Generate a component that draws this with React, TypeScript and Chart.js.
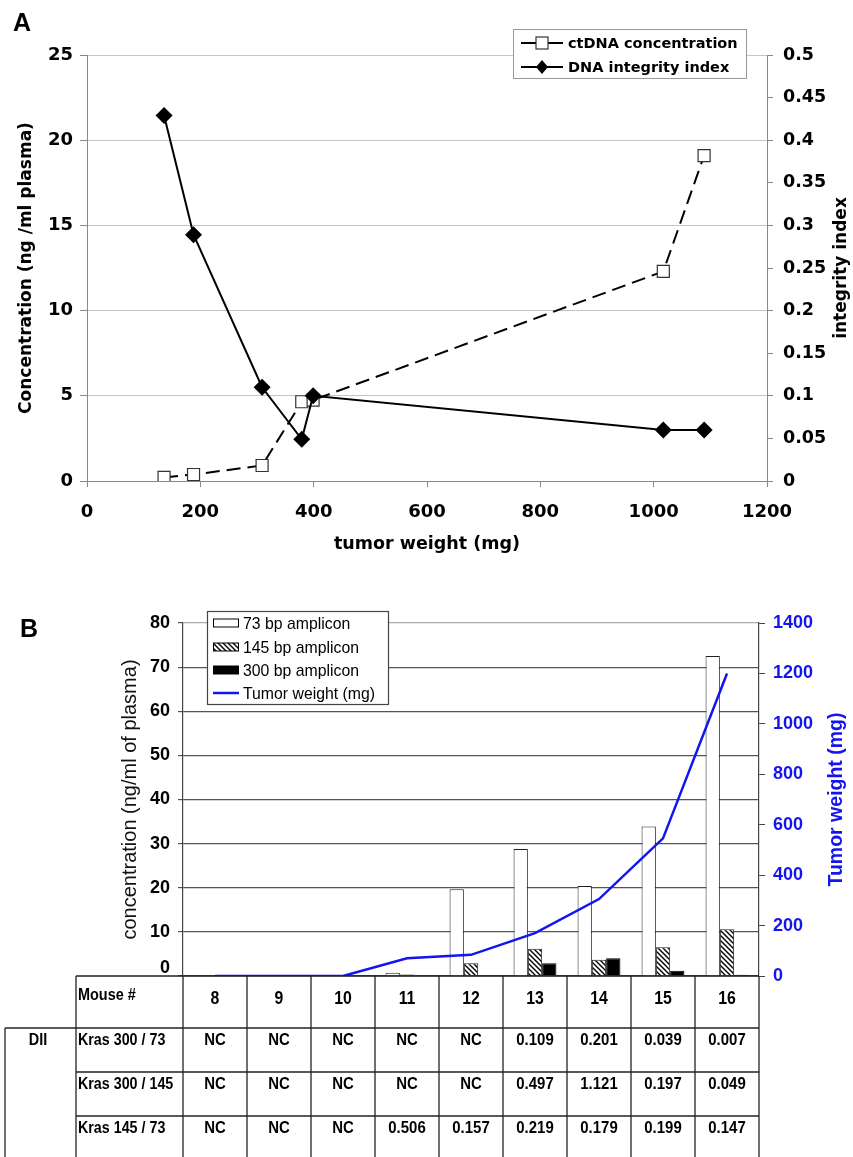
import React, { useEffect, useRef } from 'react';
import { Chart, registerables } from 'chart.js';

Chart.register(...registerables);

// ---------- Panel A data ----------
const tumorWeightA = [136, 188, 309, 379, 399, 1017, 1089];
const ctDNAConcentration = [0.21, 0.38, 0.91, 4.65, 4.75, 12.3, 19.1];
const dnaIntegrityIndex = [0.429, 0.289, 0.11, 0.049, 0.1, 0.06, 0.06];
const legendA = ['ctDNA concentration', 'DNA integrity index'];
const xTitleA = 'tumor weight (mg)';
const yTitleA = 'Concentration (ng /ml plasma)';
const y2TitleA = 'integrity index';

// ---------- Panel B data ----------
const mice = ['8', '9', '10', '11', '12', '13', '14', '15', '16'];
const amp73 = [null, null, null, 0.75, 19.65, 28.8, 20.4, 33.9, 72.5];
const amp145 = [null, null, null, 0.35, 2.9, 6.2, 3.7, 6.5, 10.6];
const amp300 = [null, null, null, null, null, 2.9, 4.0, 1.2, 0.3];
const tumorWeightB = [0, 0, 0, 70, 84, 170, 305, 546, 1200];
const legendB = ['73 bp amplicon', '145 bp amplicon', '300 bp amplicon', 'Tumor weight (mg)'];
const yTitleB = 'concentration (ng/ml of plasma)';
const y2TitleB = 'Tumor weight (mg)';
const tableHeader = 'Mouse #';
const tableGroup = 'DII';
const rowLabels = ['Kras 300 / 73', 'Kras 300 / 145', 'Kras 145 / 73'];
const dii300_73 = ['NC', 'NC', 'NC', 'NC', 'NC', '0.109', '0.201', '0.039', '0.007'];
const dii300_145 = ['NC', 'NC', 'NC', 'NC', 'NC', '0.497', '1.121', '0.197', '0.049'];
const dii145_73 = ['NC', 'NC', 'NC', '0.506', '0.157', '0.219', '0.179', '0.199', '0.147'];
const tableRows = [dii300_73, dii300_145, dii145_73];

const DV = '"DejaVu Sans", Verdana, sans-serif';
const AR = '"Liberation Sans", Arial, sans-serif';
const BLUE = '#1414f0';

function rotText(ctx: CanvasRenderingContext2D, text: string, x: number, y: number) {
  ctx.save();
  ctx.translate(x, y);
  ctx.rotate(-Math.PI / 2);
  ctx.textAlign = 'center';
  ctx.textBaseline = 'middle';
  ctx.fillText(text, 0, 0);
  ctx.restore();
}

function narrowText(ctx: CanvasRenderingContext2D, text: string, x: number, y: number, align: CanvasTextAlign, sx: number) {
  ctx.save();
  ctx.translate(x, y);
  ctx.scale(sx, 1);
  ctx.textAlign = align;
  ctx.textBaseline = 'middle';
  ctx.fillText(text, 0, 0);
  ctx.restore();
}

function makeHatch(ctx: CanvasRenderingContext2D) {
  const c = document.createElement('canvas');
  c.width = 5;
  c.height = 5;
  const g = c.getContext('2d')!;
  g.fillStyle = '#fff';
  g.fillRect(0, 0, 5, 5);
  g.strokeStyle = '#000';
  g.lineWidth = 1.4;
  g.beginPath();
  g.moveTo(-1, -1); g.lineTo(6, 6);
  g.moveTo(-1, 4); g.lineTo(1, 6);
  g.moveTo(4, -1); g.lineTo(6, 1);
  g.stroke();
  return ctx.createPattern(c, 'repeat');
}

function PanelA() {
  const ref = useRef<HTMLCanvasElement>(null);
  useEffect(() => {
    const canvas = ref.current!;
    const deco = {
      id: 'decoA',
      afterDraw(chart: any) {
        const ctx: CanvasRenderingContext2D = chart.ctx;
        const ca = chart.chartArea;
        const cy = (ca.top + ca.bottom) / 2;
        ctx.save();
        ctx.fillStyle = '#000';
        ctx.font = `bold 17px ${DV}`;
        rotText(ctx, yTitleA, 27, cy);
        rotText(ctx, y2TitleA, 842, cy);
        ctx.textAlign = 'center';
        ctx.textBaseline = 'middle';
        ctx.font = `bold 17.5px ${DV}`;
        ctx.fillText(xTitleA, (ca.left + ca.right) / 2, 544);
        // legend
        const lx = 513, ly = 29, lw = 233, lh = 49;
        ctx.fillStyle = '#fff';
        ctx.fillRect(lx, ly, lw, lh);
        ctx.strokeStyle = '#999';
        ctx.lineWidth = 1;
        ctx.strokeRect(lx + 0.5, ly + 0.5, lw, lh);
        const rows = [43, 67];
        rows.forEach((ry, i) => {
          ctx.strokeStyle = '#000';
          ctx.lineWidth = 2;
          ctx.beginPath();
          ctx.moveTo(521, ry);
          ctx.lineTo(563, ry);
          ctx.stroke();
          if (i === 0) {
            ctx.fillStyle = '#fff';
            ctx.fillRect(536, ry - 6, 12, 12);
            ctx.lineWidth = 1.2;
            ctx.strokeStyle = '#333';
            ctx.strokeRect(536, ry - 6, 12, 12);
          } else {
            ctx.fillStyle = '#000';
            ctx.beginPath();
            ctx.moveTo(542, ry - 7);
            ctx.lineTo(548, ry);
            ctx.lineTo(542, ry + 7);
            ctx.lineTo(536, ry);
            ctx.closePath();
            ctx.fill();
          }
          ctx.fillStyle = '#000';
          ctx.font = `bold 14.5px ${DV}`;
          ctx.textAlign = 'left';
          ctx.textBaseline = 'middle';
          ctx.fillText(legendA[i], 568, ry + 1);
        });
        ctx.restore();
      },
    };
    const chart = new Chart(canvas, {
      type: 'line',
      data: {
        datasets: [
          {
            label: legendA[1],
            data: tumorWeightA.map((x, i) => ({ x, y: dnaIntegrityIndex[i] })),
            yAxisID: 'y1',
            borderColor: '#000',
            borderWidth: 2,
            pointStyle: 'rectRot',
            pointRadius: 8.5,
            pointBackgroundColor: '#000',
            pointBorderColor: '#000',
            pointBorderWidth: 0,
            tension: 0,
          },
          {
            label: legendA[0],
            data: tumorWeightA.map((x, i) => ({ x, y: ctDNAConcentration[i] })),
            yAxisID: 'y',
            borderColor: '#000',
            borderWidth: 2,
            borderDash: [14, 7],
            pointStyle: 'rect',
            pointRadius: 8.5,
            pointBackgroundColor: '#fff',
            pointBorderColor: '#333',
            pointBorderWidth: 1.2,
            tension: 0,
          },
        ],
      },
      options: {
        responsive: false,
        animation: false,
        layout: { padding: { top: 55, left: 0, right: 0, bottom: 0 } },
        plugins: { legend: { display: false }, tooltip: { enabled: false } },
        scales: {
          x: {
            type: 'linear',
            min: 0,
            max: 1200,
            afterFit: (s: any) => { s.height = 590 - 481; },
            ticks: {
              stepSize: 200,
              padding: 15,
              color: '#000',
              font: { family: DV, size: 18, weight: 'bold' },
              callback: (v: any) => String(v),
            },
            grid: { drawOnChartArea: false, tickLength: 6, tickColor: '#888' },
            border: { color: '#888' },
          },
          y: {
            position: 'left',
            min: 0,
            max: 25,
            afterFit: (s: any) => { s.width = 87; },
            ticks: {
              stepSize: 5,
              padding: 7,
              color: '#000',
              font: { family: DV, size: 18, weight: 'bold' },
            },
            grid: { color: '#c4c4c4', tickLength: 7, tickColor: '#888' },
            border: { color: '#888' },
          },
          y1: {
            position: 'right',
            min: 0,
            max: 0.5,
            afterFit: (s: any) => { s.width = 853 - 767; },
            ticks: {
              stepSize: 0.05,
              padding: 10,
              color: '#000',
              font: { family: DV, size: 17.5, weight: 'bold' },
              callback: (v: any) => String(Math.round(v * 100) / 100),
            },
            grid: { drawOnChartArea: false, tickLength: 6, tickColor: '#888' },
            border: { color: '#888' },
          },
        },
      } as any,
      plugins: [deco],
    });
    return () => chart.destroy();
  }, []);
  return <canvas ref={ref} width={853} height={590} style={{ position: 'absolute', left: 0, top: 0 }} />;
}

function PanelB() {
  const ref = useRef<HTMLCanvasElement>(null);
  useEffect(() => {
    const canvas = ref.current!;
    const ctx0 = canvas.getContext('2d')!;
    const hatch = makeHatch(ctx0);
    const deco = {
      id: 'decoB',
      afterDraw(chart: any) {
        const ctx: CanvasRenderingContext2D = chart.ctx;
        const ca = chart.chartArea;
        const cy = (ca.top + ca.bottom) / 2;
        const xs = chart.scales.x;
        ctx.save();
        // axis titles
        ctx.fillStyle = '#111';
        ctx.font = `20px ${AR}`;
        rotText(ctx, yTitleB, 130, cy);
        ctx.fillStyle = BLUE;
        ctx.font = `bold 19.5px ${AR}`;
        rotText(ctx, y2TitleB, 837, cy);
        // zero label (shifted up like the reference)
        ctx.fillStyle = '#000';
        ctx.font = `bold 18px ${AR}`;
        ctx.textAlign = 'right';
        ctx.textBaseline = 'middle';
        ctx.fillText('0', 170, ca.bottom - 8);

        // legend
        const lx = 207, ly = 21, lw = 181, lh = 93;
        ctx.fillStyle = '#fff';
        ctx.fillRect(lx, ly, lw, lh);
        ctx.strokeStyle = '#444';
        ctx.lineWidth = 1.2;
        ctx.strokeRect(lx + 0.5, ly + 0.5, lw, lh);
        const rowsY = [33, 57, 80, 103];
        const fills: any[] = ['#fff', hatch, '#000'];
        rowsY.forEach((ry, i) => {
          if (i < 3) {
            ctx.fillStyle = fills[i];
            ctx.fillRect(213, ry - 4, 25, 8);
            ctx.strokeStyle = '#000';
            ctx.lineWidth = 1;
            ctx.strokeRect(213.5, ry - 4, 25, 8);
          } else {
            ctx.strokeStyle = BLUE;
            ctx.lineWidth = 2.5;
            ctx.beginPath();
            ctx.moveTo(213, ry);
            ctx.lineTo(239, ry);
            ctx.stroke();
          }
          ctx.fillStyle = '#000';
          ctx.font = `17px ${AR}`;
          narrowText(ctx, legendB[i], 243, ry + 1, 'left', 0.93);
        });

        // table
        const half = (xs.getPixelForValue(1) - xs.getPixelForValue(0)) / 2;
        const centers = mice.map((_, i) => xs.getPixelForValue(i));
        const right = ca.right;
        const top = ca.bottom;
        const bottom = chart.height;
        const mouseBottom = top + 52;
        const rowH = 44;
        const tblLeft = 76;
        const outerLeft = 5;
        ctx.strokeStyle = '#222';
        ctx.lineWidth = 1.3;
        const line = (x1: number, y1: number, x2: number, y2: number) => {
          ctx.beginPath();
          ctx.moveTo(x1, y1);
          ctx.lineTo(x2, y2);
          ctx.stroke();
        };
        line(tblLeft, top, right, top);
        line(tblLeft, top, tblLeft, bottom);
        line(centers[0] - half, top, centers[0] - half, bottom);
        centers.forEach((c) => line(c + half, top, c + half, bottom));
        line(outerLeft, mouseBottom, right, mouseBottom);
        line(outerLeft, mouseBottom, outerLeft, bottom);
        line(tblLeft, mouseBottom + rowH, right, mouseBottom + rowH);
        line(tblLeft, mouseBottom + 2 * rowH, right, mouseBottom + 2 * rowH);

        ctx.fillStyle = '#000';
        ctx.font = `bold 17px ${AR}`;
        narrowText(ctx, tableHeader, 78, top + 19, 'left', 0.85);
        ctx.font = `bold 18px ${AR}`;
        mice.forEach((m, i) => narrowText(ctx, m, centers[i], top + 23, 'center', 0.88));
        ctx.font = `bold 17px ${AR}`;
        narrowText(ctx, tableGroup, 38, mouseBottom + 12, 'center', 0.85);
        tableRows.forEach((row, r) => {
          const ry = mouseBottom + r * rowH + 12;
          ctx.font = `bold 17px ${AR}`;
          narrowText(ctx, rowLabels[r], 78, ry, 'left', 0.84);
          ctx.font = `bold 17px ${AR}`;
          row.forEach((v, i) => narrowText(ctx, v, centers[i], ry, 'center', 0.88));
        });
        ctx.restore();
      },
    };
    const chart = new Chart(canvas, {
      type: 'bar',
      data: {
        labels: mice,
        datasets: [
          {
            type: 'line',
            label: legendB[3],
            data: tumorWeightB,
            yAxisID: 'y1',
            borderColor: BLUE,
            borderWidth: 2.5,
            pointRadius: 0,
            tension: 0,
            order: 0,
          },
          {
            label: legendB[0],
            data: amp73,
            yAxisID: 'y',
            backgroundColor: '#fff',
            borderColor: '#222',
            borderWidth: 1,
            order: 1,
          },
          {
            label: legendB[1],
            data: amp145,
            yAxisID: 'y',
            backgroundColor: hatch as any,
            borderColor: '#222',
            borderWidth: 1,
            order: 1,
          },
          {
            label: legendB[2],
            data: amp300,
            yAxisID: 'y',
            backgroundColor: '#000',
            borderColor: '#000',
            borderWidth: 1,
            order: 1,
          },
        ] as any,
      },
      options: {
        responsive: false,
        animation: false,
        layout: { padding: { top: 33, left: 0, right: 0, bottom: 0 } },
        plugins: { legend: { display: false }, tooltip: { enabled: false } },
        datasets: { bar: { categoryPercentage: 0.67, barPercentage: 1.0 } },
        scales: {
          x: {
            type: 'category',
            offset: true,
            afterFit: (s: any) => { s.height = 567 - 386; },
            ticks: { display: false },
            grid: { display: false },
            border: { display: false },
          },
          y: {
            position: 'left',
            min: 0,
            max: 80,
            afterFit: (s: any) => { s.width = 183; },
            ticks: {
              stepSize: 10,
              padding: 8,
              color: '#000',
              font: { family: AR, size: 18, weight: 'bold' },
              callback: (v: any) => (v === 0 ? '' : String(v)),
            },
            grid: {
              color: (c: any) => (c.tick && c.tick.value === 80 ? '#aaa' : '#555'),
              lineWidth: 1.2,
              tickLength: 5,
              tickColor: '#555',
            },
            border: { color: '#444', width: 1.2 },
          },
          y1: {
            position: 'right',
            min: 0,
            max: 1400,
            afterFit: (s: any) => { s.width = 853 - 759; },
            ticks: {
              stepSize: 200,
              padding: 8,
              color: BLUE,
              font: { family: AR, size: 18, weight: 'bold' },
              callback: (v: any) => String(v),
            },
            grid: { drawOnChartArea: false, tickLength: 6, tickColor: '#444' },
            border: { color: '#444', width: 1.2 },
          },
        },
      } as any,
      plugins: [deco],
    });
    return () => chart.destroy();
  }, []);
  return <canvas ref={ref} width={853} height={567} style={{ position: 'absolute', left: 0, top: 590 }} />;
}

export default function App() {
  return (
    <div style={{ position: 'absolute', left: 0, top: 0, width: 853, height: 1157, background: '#fff', overflow: 'hidden' }}>
      <PanelA />
      <PanelB />
      <div style={{ position: 'absolute', left: 13, top: 8, font: `bold 25px ${AR}`, color: '#000' }}>A</div>
      <div style={{ position: 'absolute', left: 20, top: 614, font: `bold 25px ${AR}`, color: '#000' }}>B</div>
    </div>
  );
}
